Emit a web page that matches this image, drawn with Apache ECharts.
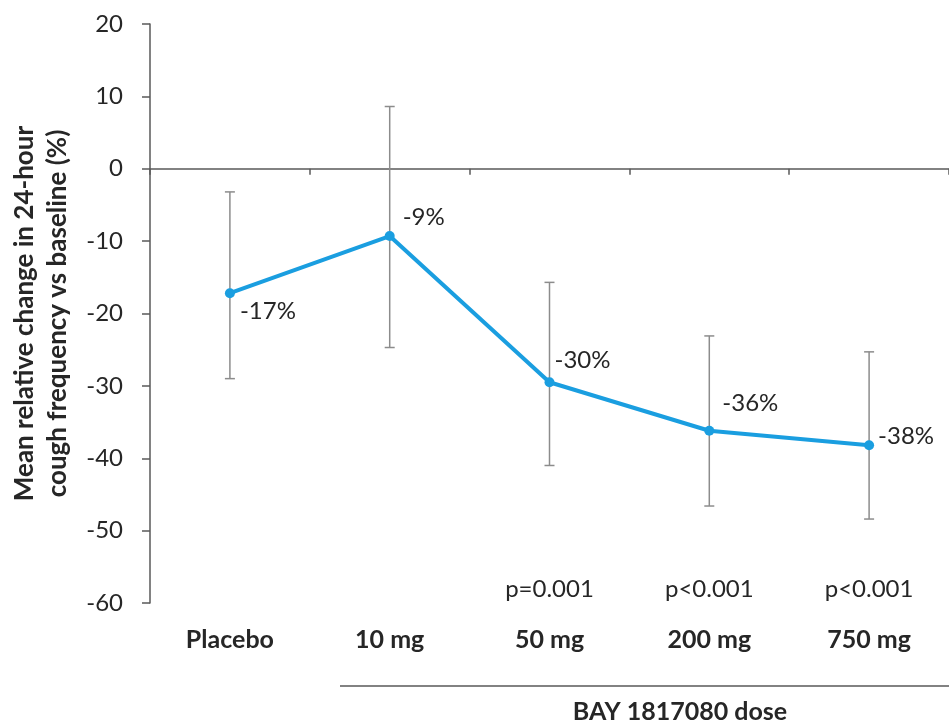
<!DOCTYPE html>
<html>
<head>
<meta charset="utf-8">
<script src="https://cdn.jsdelivr.net/npm/echarts@6/dist/echarts.min.js"></script>
<style>
html,body{margin:0;padding:0;background:#fff;}
#c{width:949px;height:725px;}
</style>
</head>
<body>
<div id="c"></div>
<script>
const categories = ['Placebo', '10 mg', '50 mg', '200 mg', '750 mg'];
const meanChange = [-17.2, -9.3, -29.5, -36.2, -38.2];
const errUpper = [-3.2, 8.6, -15.7, -23.1, -25.3];
const errLower = [-29.0, -24.7, -41.0, -46.6, -48.4];
const valueLabels = ['-17%', '-9%', '-30%', '-36%', '-38%'];
const pValues = ['', '', 'p=0.001', 'p<0.001', 'p<0.001'];
const yTicks = [-60, -50, -40, -30, -20, -10, 0, 10, 20];

const labelOffsets = [[0, 18], [3, -19], [-5, -22], [3, -27], [-1, -9]];
const FONT = 'Lato, "Open Sans", sans-serif';
const TXT = '#262626';
const AXC = '#595959';

const chart = echarts.init(document.getElementById('c'), null, {renderer: 'canvas'});

const option = {
  animation: false,
  backgroundColor: '#fff',
  textStyle: {fontFamily: FONT},
  grid: {left: 149, top: 24, width: 808, height: 579, containLabel: false},
  xAxis: [
    {
      type: 'category', data: categories, position: 'bottom',
      axisLine: {onZero: true, lineStyle: {color: AXC, width: 1.5}},
      axisTick: {show: true, alignWithLabel: false, inside: false, length: 6, lineStyle: {color: AXC, width: 1.5}},
      axisLabel: {show: false},
      splitLine: {show: false}
    },
    {
      type: 'category', data: categories, position: 'bottom', gridIndex: 0,
      axisLine: {show: false, onZero: false}, axisTick: {show: false},
      axisLabel: {show: true, margin: 24, fontFamily: FONT, fontSize: 25, fontWeight: 'bold', color: TXT}
    },
    {
      type: 'category', data: categories, position: 'bottom', gridIndex: 0, offset: -26,
      axisLine: {show: false, onZero: false}, axisTick: {show: false},
      axisLabel: {show: true, margin: 0, fontFamily: FONT, fontSize: 24, color: TXT,
        formatter: (v, i) => pValues[i]}
    }
  ],
  yAxis: {
    type: 'value', min: yTicks[0], max: yTicks[yTicks.length - 1], interval: 10,
    axisLine: {show: true, lineStyle: {color: AXC, width: 1.5}},
    axisTick: {show: true, length: 8, lineStyle: {color: AXC, width: 1.5}},
    axisLabel: {margin: 27, fontFamily: FONT, fontSize: 24, color: TXT},
    splitLine: {show: false},
    name: 'Mean relative change in 24-hour\ncough frequency vs baseline (%)',
    nameLocation: 'middle', nameGap: 76,
    nameTextStyle: {fontFamily: FONT, fontSize: 26, fontWeight: 'bold', color: TXT, lineHeight: 33}
  },
  graphic: [
    {type: 'line', shape: {x1: 340, y1: 686, x2: 949, y2: 686}, style: {stroke: AXC, lineWidth: 1.5}},
    {type: 'text', x: 680, y: 712, style: {text: 'BAY 1817080 dose', fontFamily: FONT, fontSize: 25, fontWeight: 'bold', fill: TXT, align: 'center', verticalAlign: 'middle'}}
  ],
  series: [
    {
      type: 'custom',
      xAxisIndex: 0,
      z: 2,
      data: categories.map((c, i) => [i, errLower[i], errUpper[i]]),
      renderItem: function (params, api) {
        const i = api.value(0);
        const lo = api.coord([i, api.value(1)]);
        const hi = api.coord([i, api.value(2)]);
        const hw = 5;
        const st = {stroke: '#8c8c8c', lineWidth: 1.5};
        return {
          type: 'group',
          children: [
            {type: 'line', shape: {x1: lo[0], y1: lo[1], x2: hi[0], y2: hi[1]}, style: st},
            {type: 'line', shape: {x1: hi[0] - hw, y1: hi[1], x2: hi[0] + hw, y2: hi[1]}, style: st},
            {type: 'line', shape: {x1: lo[0] - hw, y1: lo[1], x2: lo[0] + hw, y2: lo[1]}, style: st}
          ]
        };
      }
    },
    {
      type: 'line',
      xAxisIndex: 0,
      z: 3,
      data: meanChange.map((v, i) => ({
        value: v,
        label: {show: true, position: 'right', distance: 5, offset: labelOffsets[i],
          formatter: valueLabels[i], fontFamily: FONT, fontSize: 24, color: TXT}
      })),
      symbol: 'circle', symbolSize: 10,
      lineStyle: {color: '#1a9ee0', width: 4},
      itemStyle: {color: '#1a9ee0'}
    }
  ]
};
chart.setOption(option);
</script>
</body>
</html>
